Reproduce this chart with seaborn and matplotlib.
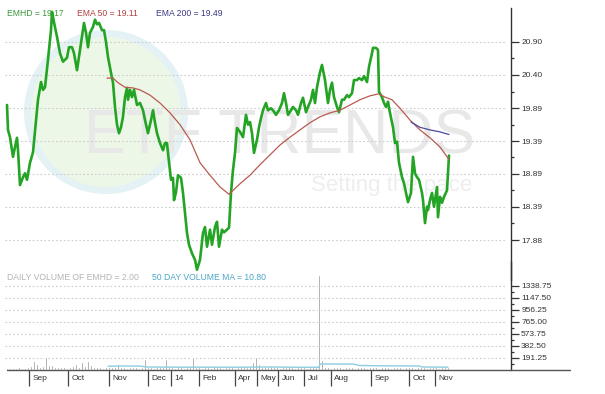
import matplotlib
matplotlib.use("Agg")
import matplotlib.pyplot as plt
import seaborn as sns
import numpy as np
import pandas as pd
from matplotlib.lines import Line2D
from matplotlib.patches import Ellipse
from matplotlib.transforms import ScaledTranslation

# ---------------- data ----------------
price_days = [0, 1, 3, 6, 8, 10, 11, 13, 16, 18, 20, 23, 26, 30, 31, 34, 36, 38, 41, 44, 45, 47, 50, 53,
              56, 60, 62, 65, 67, 70, 73, 77, 79, 81, 83, 86, 88, 90, 92, 95, 97, 99, 101, 104, 106, 108,
              110, 112, 114, 116, 118, 120, 121, 123, 125, 127, 130, 133, 136, 138, 141, 144, 146, 148,
              150, 153, 156, 158, 160, 161, 164, 166, 167, 169, 171, 174, 176, 178, 180, 182, 185, 188,
              190, 193, 196, 198, 200, 203, 205, 208, 210, 212, 215, 217, 220, 222, 224, 226, 228, 230,
              233, 236, 239, 241, 243, 245, 247, 250, 252, 254, 256, 259, 261, 264, 266, 269, 272, 275,
              277, 279, 281, 284, 286, 289, 291, 294, 296, 299, 301, 304, 306, 308, 310, 313, 315, 318,
              321, 323, 325, 327, 330, 332, 335, 337, 340, 342, 345, 347, 350, 352, 355, 357, 360, 362,
              365, 366, 369, 371, 372, 375, 377, 379, 381, 383, 386, 388, 390, 392, 395, 397, 399, 401,
              404, 406, 408, 410, 412, 415, 416, 418, 420, 421, 423, 425, 427, 430, 431, 433, 435, 437,
              440, 441, 442]
price_vals = [19.94, 19.56, 19.45, 19.15, 19.30, 19.44, 19.25, 18.72, 18.84, 18.90, 18.80, 19.06, 19.22,
              19.86, 20.02, 20.29, 20.17, 20.21, 20.63, 21.08, 21.36, 21.20, 20.98, 20.73, 20.60, 20.66,
              20.82, 20.82, 20.73, 20.47, 20.78, 21.19, 21.04, 20.82, 21.04, 21.13, 21.24, 21.17, 21.19,
              21.08, 21.08, 20.90, 20.67, 20.43, 20.28, 19.91, 19.64, 19.51, 19.60, 19.76, 20.06, 20.20,
              20.02, 20.17, 20.06, 20.17, 19.94, 19.97, 19.86, 19.71, 19.51, 19.71, 19.86, 19.67, 19.51,
              19.36, 19.25, 19.36, 19.36, 19.21, 18.80, 18.83, 18.49, 18.61, 18.87, 18.83, 18.60, 18.29,
              17.99, 17.81, 17.68, 17.58, 17.43, 17.58, 17.99, 18.08, 17.78, 18.04, 17.81, 18.08, 18.16,
              17.78, 18.04, 18.00, 18.04, 18.07, 18.60, 18.95, 19.21, 19.59, 19.53, 19.45, 19.79, 19.64,
              19.68, 19.51, 19.21, 19.41, 19.60, 19.74, 19.86, 19.97, 19.86, 19.89, 19.86, 19.79, 19.86,
              19.97, 20.12, 19.97, 19.79, 19.86, 19.91, 19.86, 19.79, 19.97, 20.05, 19.83, 19.91, 20.02,
              20.17, 19.97, 20.21, 20.44, 20.55, 20.32, 19.97, 20.17, 20.28, 20.06, 19.91, 19.83, 20.02,
              20.02, 20.09, 20.06, 20.12, 20.32, 20.32, 20.35, 20.32, 20.38, 20.29, 20.52, 20.73, 20.81,
              20.81, 20.78, 20.14, 20.06, 19.97, 19.91, 19.99, 19.82, 19.60, 19.36, 19.38, 19.06, 18.84,
              18.75, 18.60, 18.46, 18.60, 19.15, 18.90, 18.84, 18.80, 18.60, 18.49, 18.14, 18.39, 18.34,
              18.49, 18.60, 18.39, 18.69, 18.23, 18.54, 18.45, 18.54, 18.64, 18.90, 19.17]

ema50_days = [100, 106, 111, 118, 126, 133, 143, 153, 163, 173, 183, 193, 203, 213, 222, 233, 243, 253,
              263, 273, 283, 293, 303, 313, 323, 333, 343, 353, 363, 372, 378, 385, 393, 403, 413, 423,
              433, 442]
ema50_vals = [20.35, 20.35, 20.28, 20.21, 20.20, 20.17, 20.09, 19.97, 19.82, 19.64, 19.41, 19.06, 18.87,
              18.69, 18.58, 18.74, 18.87, 19.03, 19.18, 19.33, 19.45, 19.56, 19.67, 19.76, 19.82, 19.86,
              19.94, 20.02, 20.08, 20.11, 20.06, 20.02, 19.89, 19.71, 19.56, 19.44, 19.30, 19.11]

ema200_days = [404, 413, 423, 433, 442]
ema200_vals = [19.68, 19.60, 19.56, 19.53, 19.49]

vol_days = list(range(0, 442, 3))
vol_vals = [35, 30, 35, 30, 40, 35, 30, 45, 60, 145, 90, 55, 60, 200, 80, 75, 50, 45, 55, 40, 35, 45, 60,
            100, 55, 120, 70, 150, 80, 50, 40, 45, 35, 40,
            40, 45, 40, 100, 45, 40, 35, 40, 45, 40, 35, 45, 170, 45, 40, 35, 40, 45, 40, 170, 45, 40,
            35, 40, 45, 35, 40, 45, 200, 50, 40, 35, 45, 40, 35, 40, 45, 40, 35, 40, 45, 40, 35, 40,
            45, 40, 50, 60, 120, 200, 100, 55, 45, 40, 60, 45, 40, 35, 40, 45, 60, 40, 35, 40, 45, 40,
            35, 40, 45, 50, 1515, 160, 45, 40, 35, 40, 45, 40, 35, 40, 45, 40, 35, 40, 45, 40, 35, 40,
            45, 40, 35, 40, 45, 40, 35, 40, 45, 40, 35, 40, 45, 40, 35, 40, 45, 40, 35, 40, 45, 40,
            35, 40, 45, 40]

ma_days = [101, 115, 133, 140, 170, 200, 230, 260, 290, 312, 313, 347, 352, 380, 412, 415, 441]
ma_vals = [60, 64, 62, 48, 45, 45, 44, 48, 44, 44, 96, 94, 72, 66, 64, 48, 45]

month_days = [22, 61, 102, 141, 164, 192, 228, 250, 271, 297, 324, 364, 402, 428]
month_labels = ["Sep", "Oct", "Nov", "Dec", "14", "Feb", "Apr", "May", "Jun", "Jul", "Aug", "Sep", "Oct", "Nov"]

price_ticks = [17.88, 18.39, 18.89, 19.39, 19.89, 20.40, 20.90]
vol_ticks = [191.25, 382.50, 573.75, 765.00, 956.25, 1147.50, 1338.75]

# ---------------- figure ----------------
sns.set_style("white")
plt.rcParams["font.family"] = ["Liberation Sans", "DejaVu Sans"]

W, H = 605, 394
fig = plt.figure(figsize=(W / 100, H / 100), dpi=100)

def frac_rect(left, top, right, bottom):
    return [left / W, 1 - bottom / H, (right - left) / W, (bottom - top) / H]

# watermark (behind the axes)
fig.add_artist(Ellipse((106 / W, 1 - 112 / H), 164 / W, 164 / H, transform=fig.transFigure,
                       facecolor="#e4f1f5", edgecolor="none", zorder=-3))
fig.add_artist(Ellipse((106 / W, 1 - 112 / H), 150 / W, 150 / H, transform=fig.transFigure,
                       facecolor="#edf7e8", edgecolor="none", zorder=-2.5))
fig.text(84 / W, 1 - 153 / H, "ETF TRENDS", fontsize=45, color="#e8e8e8", ha="left",
         va="baseline", zorder=-2)
fig.text(311 / W, 1 - 191 / H, "Setting the pace", fontsize=16, color="#eeeeee", ha="left",
         va="baseline", zorder=-2)

axp = fig.add_axes(frac_rect(5, 8, 511, 280))
axv = fig.add_axes(frac_rect(5, 262, 511, 370))
for ax in (axp, axv):
    ax.patch.set_alpha(0)
    for s in ("left", "top", "bottom"):
        ax.spines[s].set_visible(False)
    ax.spines["right"].set_color("#333333")
    ax.spines["right"].set_linewidth(1)
    ax.set_xlim(-2, 504)

# price lines
sns.lineplot(x=price_days, y=price_vals, ax=axp, color="#24a424", linewidth=1.9, estimator=None)
sns.lineplot(x=ema50_days, y=ema50_vals, ax=axp, color="#b85a50", linewidth=0.9, estimator=None)
sns.lineplot(x=ema200_days, y=ema200_vals, ax=axp, color="#4a4a9a", linewidth=0.9, estimator=None)
axp.set_ylim(17.273, 21.418)
axp.set_xlim(-2, 504)
axp.set_xticks([])
axp.set_xlabel("")
axp.set_ylabel("")
axp.yaxis.tick_right()
axp.set_yticks(price_ticks)
axp.set_yticklabels([f"{t:.2f}" for t in price_ticks])
axp.set_yticks([(a + b) / 2 for a, b in zip(price_ticks[:-1], price_ticks[1:])], minor=True)
for t in price_ticks:
    axp.plot([-2, 498], [t, t], color="#cccccc", lw=0.8, ls=(0, (1.5, 2)), zorder=0.8)

# volume
sns.barplot(x=vol_days, y=vol_vals, ax=axv, native_scale=True, color="#858585", width=0.6,
            errorbar=None, saturation=1, zorder=2)
sns.lineplot(x=ma_days, y=ma_vals, ax=axv, color="#8ccde0", linewidth=1.0, estimator=None, zorder=3)
axv.set_ylim(0, 1721.25)
axv.set_xlim(-2, 504)
axv.set_xlabel("")
axv.set_ylabel("")
axv.yaxis.tick_right()
axv.set_yticks(vol_ticks)
axv.set_yticklabels([f"{t:.2f}" for t in vol_ticks])
axv.set_yticks([t - 95.625 for t in vol_ticks], minor=True)
for t in vol_ticks:
    axv.plot([-2, 498], [t, t], color="#cccccc", lw=0.8, ls=(0, (1.5, 2)), zorder=0.8)

for ax in (axp, axv):
    ax.tick_params(axis="y", which="major", direction="out", length=5.8, width=0.9,
                   color="#333333", pad=1.5, labelsize=6, labelcolor="#333333", right=True, left=False)
    ax.tick_params(axis="y", which="minor", direction="out", length=2.5, width=0.9,
                   color="#333333", right=True, left=False)

axv.set_xticks(month_days)
axv.set_xticklabels(month_labels)
axv.tick_params(axis="x", which="major", direction="out", length=11.5, width=0.9, color="#444444",
                pad=-7.6, labelsize=6, labelcolor="#333333", bottom=True)
for lab in axv.get_xticklabels():
    lab.set_horizontalalignment("left")
    lab.set_transform(lab.get_transform() + ScaledTranslation(2.5 / 72, 0, fig.dpi_scale_trans))

# baseline extending past axis
fig.add_artist(Line2D([7 / W, 570 / W], [1 - 370 / H, 1 - 370 / H], color="#555555", lw=1.0,
                      transform=fig.transFigure))

# header texts
fig.text(7 / W, 1 - 14 / H, "EMHD = 19.17", fontsize=6.2, color="#3a9a3a", va="center")
fig.text(77 / W, 1 - 14 / H, "EMA 50 = 19.11", fontsize=6.2, color="#b04040", va="center")
fig.text(156 / W, 1 - 14 / H, "EMA 200 = 19.49", fontsize=6.2, color="#3a3a88", va="center")
fig.text(7 / W, 1 - 278 / H, "DAILY VOLUME OF EMHD = 2.00", fontsize=6.2, color="#b4b4b4", va="center")
fig.text(152 / W, 1 - 278 / H, "50 DAY VOLUME MA = 10.80", fontsize=6.2, color="#4aa6c6", va="center")

fig.savefig("out.png", dpi=100)
